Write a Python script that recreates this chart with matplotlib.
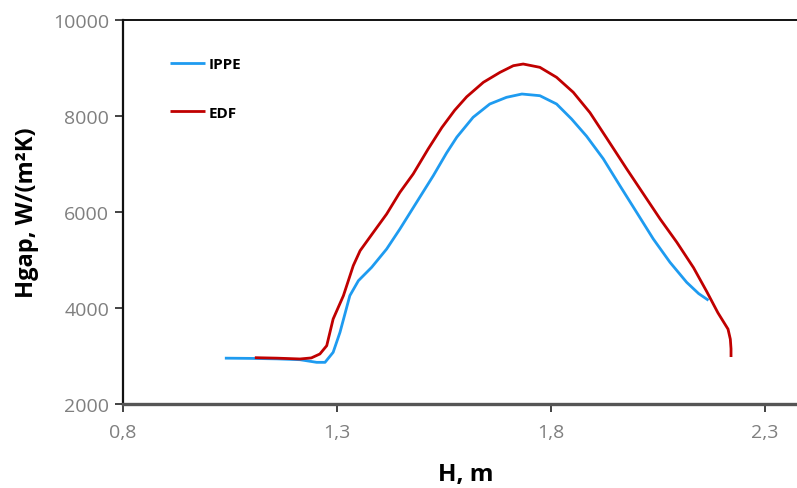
import matplotlib
matplotlib.use("Agg")
import matplotlib.pyplot as plt

# IPPE series (H, m ; Hgap, W/(m2K))
ippe_h = [1.038, 1.10, 1.16, 1.2136, 1.2525, 1.272, 1.291, 1.307, 1.330, 1.350, 1.381,
          1.416, 1.447, 1.486, 1.525, 1.556, 1.580, 1.618, 1.657, 1.696, 1.732, 1.774,
          1.813, 1.848, 1.883, 1.922, 1.961, 2.000, 2.039, 2.078, 2.117, 2.145, 2.168]
ippe_hgap = [2955, 2950, 2940, 2923, 2868, 2868, 3077, 3494, 4257, 4569, 4848,
             5229, 5646, 6202, 6757, 7230, 7560, 7973, 8250, 8389, 8458, 8423,
             8250, 7938, 7580, 7110, 6548, 5994, 5438, 4952, 4535, 4300, 4160]

# EDF series
edf_h = [1.108, 1.16, 1.2136, 1.24, 1.260, 1.276, 1.291, 1.315, 1.338, 1.354, 1.385,
         1.416, 1.447, 1.478, 1.513, 1.545, 1.575, 1.603, 1.642, 1.681, 1.712, 1.735,
         1.774, 1.813, 1.852, 1.891, 1.930, 1.977, 2.016, 2.055, 2.094, 2.133, 2.164,
         2.190, 2.2136, 2.219, 2.2206, 2.2206]
edf_hgap = [2965, 2955, 2938, 2960, 3042, 3215, 3771, 4257, 4882, 5194, 5577,
            5958, 6410, 6792, 7313, 7760, 8120, 8400, 8702, 8910, 9048, 9083,
            9014, 8806, 8494, 8070, 7540, 6896, 6375, 5854, 5369, 4840, 4340,
            3900, 3560, 3350, 3150, 2979]

x_ticks = [0.8, 1.3, 1.8, 2.3]
x_tick_labels = ["0,8", "1,3", "1,8", "2,3"]
y_ticks = [2000, 4000, 6000, 8000, 10000]
y_tick_labels = ["2000", "4000", "6000", "8000", "10000"]

plt.rcParams['font.family'] = ['Open Sans', 'DejaVu Sans']

fig = plt.figure(figsize=(7.97, 4.89), dpi=100)
ax = fig.add_axes([123/797, 1 - 405/489, 1 - 123/797, (405 - 21)/489])

ax.plot(ippe_h, ippe_hgap, color='#1E9BF0', lw=2.0, label='IPPE', solid_capstyle='butt',
        solid_joinstyle='round')
ax.plot(edf_h, edf_hgap, color='#C00000', lw=2.0, label='EDF', solid_capstyle='butt',
        solid_joinstyle='round')

ax.set_xlim(0.8, 0.8 + (797 - 123) / 428)
ax.set_ylim(2000, 10000)
ax.set_xticks(x_ticks)
ax.set_xticklabels(x_tick_labels)
ax.set_yticks(y_ticks)
ax.set_yticklabels(y_tick_labels)

ax.tick_params(axis='both', direction='out', length=6, width=1.2, colors='#222222',
               labelcolor='#7f7f7f', labelsize=14)
ax.tick_params(axis='x', pad=8)
ax.tick_params(axis='y', pad=4)

ax.spines['left'].set_linewidth(1.6)
ax.spines['left'].set_color('#111111')
ax.spines['bottom'].set_linewidth(2.4)
ax.spines['bottom'].set_color('#555555')
ax.spines['top'].set_linewidth(1.4)
ax.spines['top'].set_color('#111111')
ax.spines['right'].set_visible(False)

ax.set_xlabel('H, m', fontsize=17.5, fontweight='bold')
ax.xaxis.set_label_coords((466 - 123) / 674, -0.15)
ax.set_ylabel('Hgap, W/(m²K)', fontsize=17, fontweight='bold', labelpad=10)

leg = ax.legend(loc='upper left', bbox_to_anchor=(0.0697, 0.904), frameon=False,
                borderpad=0, borderaxespad=0,
                handlelength=2.3, handletextpad=0.2, labelspacing=2.27,
                prop={'family': ['Open Sans', 'DejaVu Sans'], 'weight': 'bold', 'size': 11})

fig.savefig('out.png', dpi=100)
